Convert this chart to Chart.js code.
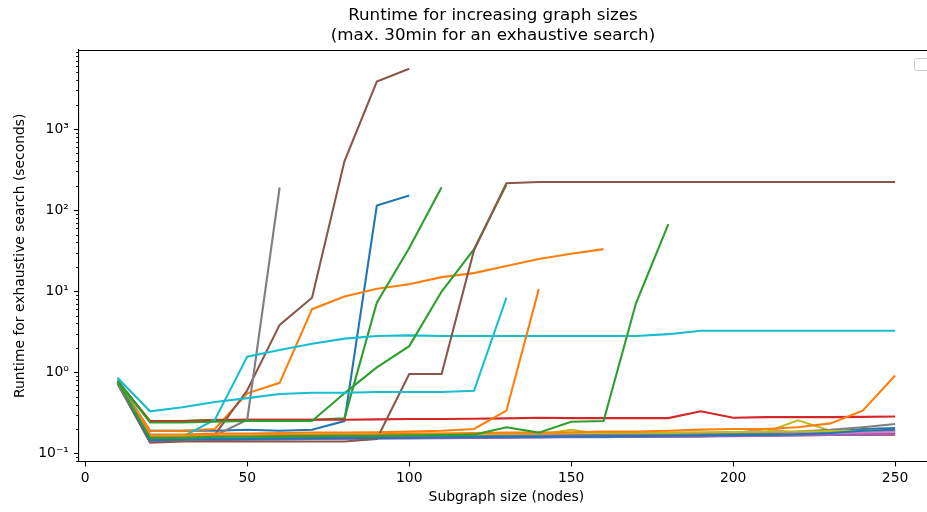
<!DOCTYPE html>
<html><head><meta charset="utf-8">
<script src="https://cdn.jsdelivr.net/npm/chart.js@4/dist/chart.umd.min.js"></script>
<style>html,body{margin:0;padding:0;overflow:hidden;background:#fff}#wrap{width:960px;height:512px;position:relative}</style>
</head><body><div id="wrap"><canvas id="c" width="960" height="512"></canvas></div>
<script>
// ---- data ----
const sizes = [10,20,30,40,50,60,70,80,90,100,110,120,130,140,150,160,170,180,190,200,210,220,230,240,250];
const xTicks = [0,50,100,150,200,250];
const yTicks = [0.1,1,10,100,1000];
const yTickLabels = ['10⁻¹','10⁰','10¹','10²','10³'];
const titleLines = ['Runtime for increasing graph sizes','(max. 30min for an exhaustive search)'];
const xLabel = 'Subgraph size (nodes)';
const yLabel = 'Runtime for exhaustive search (seconds)';

const sBlue1   = [0.76,0.19,0.19,0.19,0.195,0.19,0.195,0.25,114,151];
const sOrange1 = [0.8,0.19,0.19,0.2,0.55,0.74,6.0,8.6,10.7,12.2,14.9,16.7,20.4,25,29,33];
const sGreen1  = [0.78,0.25,0.25,0.26,0.26,0.26,0.26,0.27,7.2,34,192];
const sRed1    = [0.78,0.25,0.25,0.255,0.26,0.26,0.26,0.26,0.262,0.265,0.265,0.267,0.27,0.275,0.272,0.272,0.272,0.272,0.33,0.275,0.28,0.28,0.28,0.282,0.285];
const sPurple1 = [0.72,0.14,0.145,0.15,0.15,0.15,0.152,0.153,0.155,0.155,0.156,0.157,0.158,0.16,0.16,0.16,0.162,0.163,0.165,0.165,0.168,0.17,0.17,0.172,0.175];
const sBrown1  = [0.74,0.15,0.16,0.17,0.6,3.84,8.3,400,3850,5550];
const sPink1   = [0.73,0.145,0.15,0.155,0.155,0.155,0.158,0.16,0.16,0.162,0.163,0.165,0.165,0.166,0.167,0.168,0.17,0.17,0.172,0.175,0.2,0.178,0.18,0.18,0.182];
const sGray1   = [0.75,0.16,0.16,0.165,0.26,190];
const sOlive1  = [0.74,0.15,0.155,0.16,0.16,0.162,0.163,0.165,0.165,0.167,0.168,0.168,0.17,0.17,0.195,0.172,0.172,0.175,0.178,0.18,0.182,0.255,0.19,0.19,0.192];
const sCyan1   = [0.86,0.16,0.16,0.26,1.56,1.88,2.25,2.6,2.8,2.85,2.8,2.8,2.8,2.8,2.8,2.8,2.8,2.95,3.25,3.25,3.25,3.25,3.25,3.25,3.25];
const sBlue2   = [0.74,0.15,0.15,0.15,0.15,0.152,0.153,0.154,0.155,0.155,0.156,0.157,0.158,0.158,0.16,0.16,0.16,0.162,0.163,0.165,0.168,0.175,0.185,0.2,0.205];
const sOrange2 = [0.77,0.17,0.17,0.175,0.175,0.178,0.18,0.18,0.182,0.185,0.19,0.2,0.336,10.6];
const sGreen2  = [0.78,0.24,0.24,0.245,0.25,0.25,0.25,0.55,1.15,2.1,9.9,33,205];
const sRed2    = [0.72,0.14,0.145,0.148,0.15,0.15,0.152,0.153,0.155,0.155,0.156,0.157,0.158,0.16,0.16,0.16,0.162,0.163,0.163,0.165,0.165,0.167,0.168,0.168,0.17];
const sPurple2 = [0.72,0.14,0.142,0.145,0.147,0.148,0.15,0.15,0.152,0.153,0.154,0.155,0.156,0.157,0.158,0.158,0.16,0.16,0.162,0.163,0.165,0.166,0.168,0.17,0.172];
const sBrown2  = [0.73,0.135,0.14,0.14,0.14,0.14,0.14,0.14,0.15,0.95,0.95,32,215,222,222,222,222,222,222,222,222,222,222,222,222];
const sPink2   = [0.73,0.15,0.152,0.155,0.156,0.158,0.16,0.16,0.162,0.163,0.164,0.165,0.166,0.167,0.168,0.17,0.17,0.172,0.173,0.175,0.177,0.18,0.182,0.185,0.187];
const sGray2   = [0.73,0.145,0.148,0.15,0.152,0.155,0.155,0.158,0.16,0.16,0.162,0.163,0.165,0.165,0.167,0.168,0.17,0.17,0.172,0.175,0.178,0.185,0.195,0.21,0.23];
const sOlive2  = [0.74,0.16,0.162,0.165,0.166,0.168,0.17,0.17,0.172,0.173,0.174,0.175,0.176,0.177,0.178,0.178,0.18,0.18,0.182,0.183,0.185,0.186,0.188,0.19,0.195];
const sCyan2   = [0.85,0.33,0.37,0.43,0.48,0.54,0.56,0.56,0.57,0.57,0.57,0.59,8.3];
const sBlue3   = [0.75,0.145,0.148,0.15,0.15,0.152,0.153,0.155,0.155,0.156,0.157,0.158,0.16,0.16,0.161,0.162,0.163,0.165,0.166,0.168,0.17,0.172,0.178,0.19,0.195];
const sOrange3 = [0.76,0.16,0.16,0.165,0.165,0.168,0.17,0.17,0.172,0.175,0.175,0.178,0.18,0.18,0.182,0.185,0.185,0.19,0.196,0.2,0.2,0.21,0.234,0.336,0.91];
const sGreen3  = [0.77,0.155,0.155,0.16,0.16,0.162,0.163,0.165,0.165,0.167,0.168,0.17,0.21,0.18,0.245,0.25,7.1,67];

const seriesList = [sBlue1,sOrange1,sGreen1,sRed1,sPurple1,sBrown1,sPink1,sGray1,sOlive1,sCyan1,
                    sBlue2,sOrange2,sGreen2,sRed2,sPurple2,sBrown2,sPink2,sGray2,sOlive2,sCyan2,
                    sBlue3,sOrange3,sGreen3];
const palette = ['#1f77b4','#ff7f0e','#2ca02c','#d62728','#9467bd','#8c564b','#e377c2','#7f7f7f','#bcbd22','#17becf'];

// ---- chart ----
const FONT = "'DejaVu Sans', sans-serif";
const N = seriesList.length;
const datasets = seriesList.map((vals, i) => ({
  data: vals.map((v, j) => ({x: sizes[j], y: v})),
  borderColor: palette[i % palette.length],
  backgroundColor: palette[i % palette.length],
  borderWidth: 2.1,
  pointRadius: 0,
  tension: 0,
  fill: false,
  order: N - i
}));

const decor = {
  id: 'decor',
  afterDraw(chart) {
    const ctx = chart.ctx, a = chart.chartArea;
    const xs = chart.scales.x, ys = chart.scales.y;
    ctx.save();
    ctx.strokeStyle = '#000';
    // top spine
    ctx.lineWidth = 1.1;
    const ty = Math.floor(a.top) + 0.5;
    ctx.beginPath(); ctx.moveTo(a.left, ty); ctx.lineTo(a.right, ty); ctx.stroke();
    // x ticks
    xTicks.forEach(v => {
      const px = Math.round(xs.getPixelForValue(v)) + 0.5;
      ctx.beginPath(); ctx.moveTo(px, a.bottom); ctx.lineTo(px, a.bottom + 4.9); ctx.stroke();
    });
    // y major ticks
    yTicks.forEach(v => {
      const py = Math.round(ys.getPixelForValue(v)) + 0.5;
      ctx.beginPath(); ctx.moveTo(a.left, py); ctx.lineTo(a.left - 4.9, py); ctx.stroke();
    });
    // y minor ticks
    ctx.lineWidth = 0.85;
    for (let e = -2; e <= 3; e++) {
      for (let m = 2; m <= 9; m++) {
        const v = m * Math.pow(10, e);
        if (v < ys.min || v > ys.max) continue;
        const py = Math.round(ys.getPixelForValue(v)) + 0.5;
        ctx.beginPath(); ctx.moveTo(a.left, py); ctx.lineTo(a.left - 2.8, py); ctx.stroke();
      }
    }
    // titles
    ctx.fillStyle = '#000';
    ctx.textAlign = 'center';
    ctx.textBaseline = 'middle';
    ctx.font = '16.7px ' + FONT;
    ctx.fillText(titleLines[0], 493, 16);
    ctx.fillText(titleLines[1], 493, 36);
    ctx.font = '13.9px ' + FONT;
    ctx.fillText(xLabel, (a.left + a.right) / 2, 497);
    ctx.save();
    ctx.translate(20, (a.top + a.bottom) / 2);
    ctx.rotate(-Math.PI / 2);
    ctx.fillText(yLabel, 0, 0);
    ctx.restore();
    // empty legend frame
    ctx.fillStyle = 'rgba(255,255,255,0.8)';
    ctx.strokeStyle = '#cccccc';
    ctx.lineWidth = 1;
    ctx.beginPath();
    ctx.roundRect(914.5, 58.5, 14, 12, 2);
    ctx.fill(); ctx.stroke();
    ctx.restore();
  }
};

new Chart(document.getElementById('c'), {
  type: 'line',
  data: { datasets },
  options: {
    responsive: false,
    animation: false,
    events: [],
    layout: { padding: { top: 50, left: 0, right: 26, bottom: 0 } },
    plugins: { legend: { display: false }, title: { display: false }, tooltip: { enabled: false } },
    scales: {
      x: {
        type: 'linear', min: -2, max: 262,
        afterFit: s => { s.height = 50.5; },
        afterBuildTicks: s => { s.ticks = xTicks.map(v => ({ value: v })); },
        grid: { display: false, drawTicks: false },
        border: { display: true, color: '#000', width: 1.1 },
        ticks: { color: '#000', font: { family: FONT, size: 13.9 }, padding: 9, maxRotation: 0, autoSkip: false }
      },
      y: {
        type: 'logarithmic', min: 0.0793, max: 9440,
        afterFit: s => { s.width = 78.8; },
        afterBuildTicks: s => { s.ticks = yTicks.map(v => ({ value: v })); },
        grid: { display: false, drawTicks: false },
        border: { display: true, color: '#000', width: 1.1 },
        ticks: {
          color: '#000', font: { family: FONT, size: 13.9 }, padding: 10, autoSkip: false,
          callback: (v) => { const i = yTicks.indexOf(v); return i >= 0 ? yTickLabels[i] : ''; }
        }
      }
    }
  },
  plugins: [decor]
});
</script>
</body></html>
